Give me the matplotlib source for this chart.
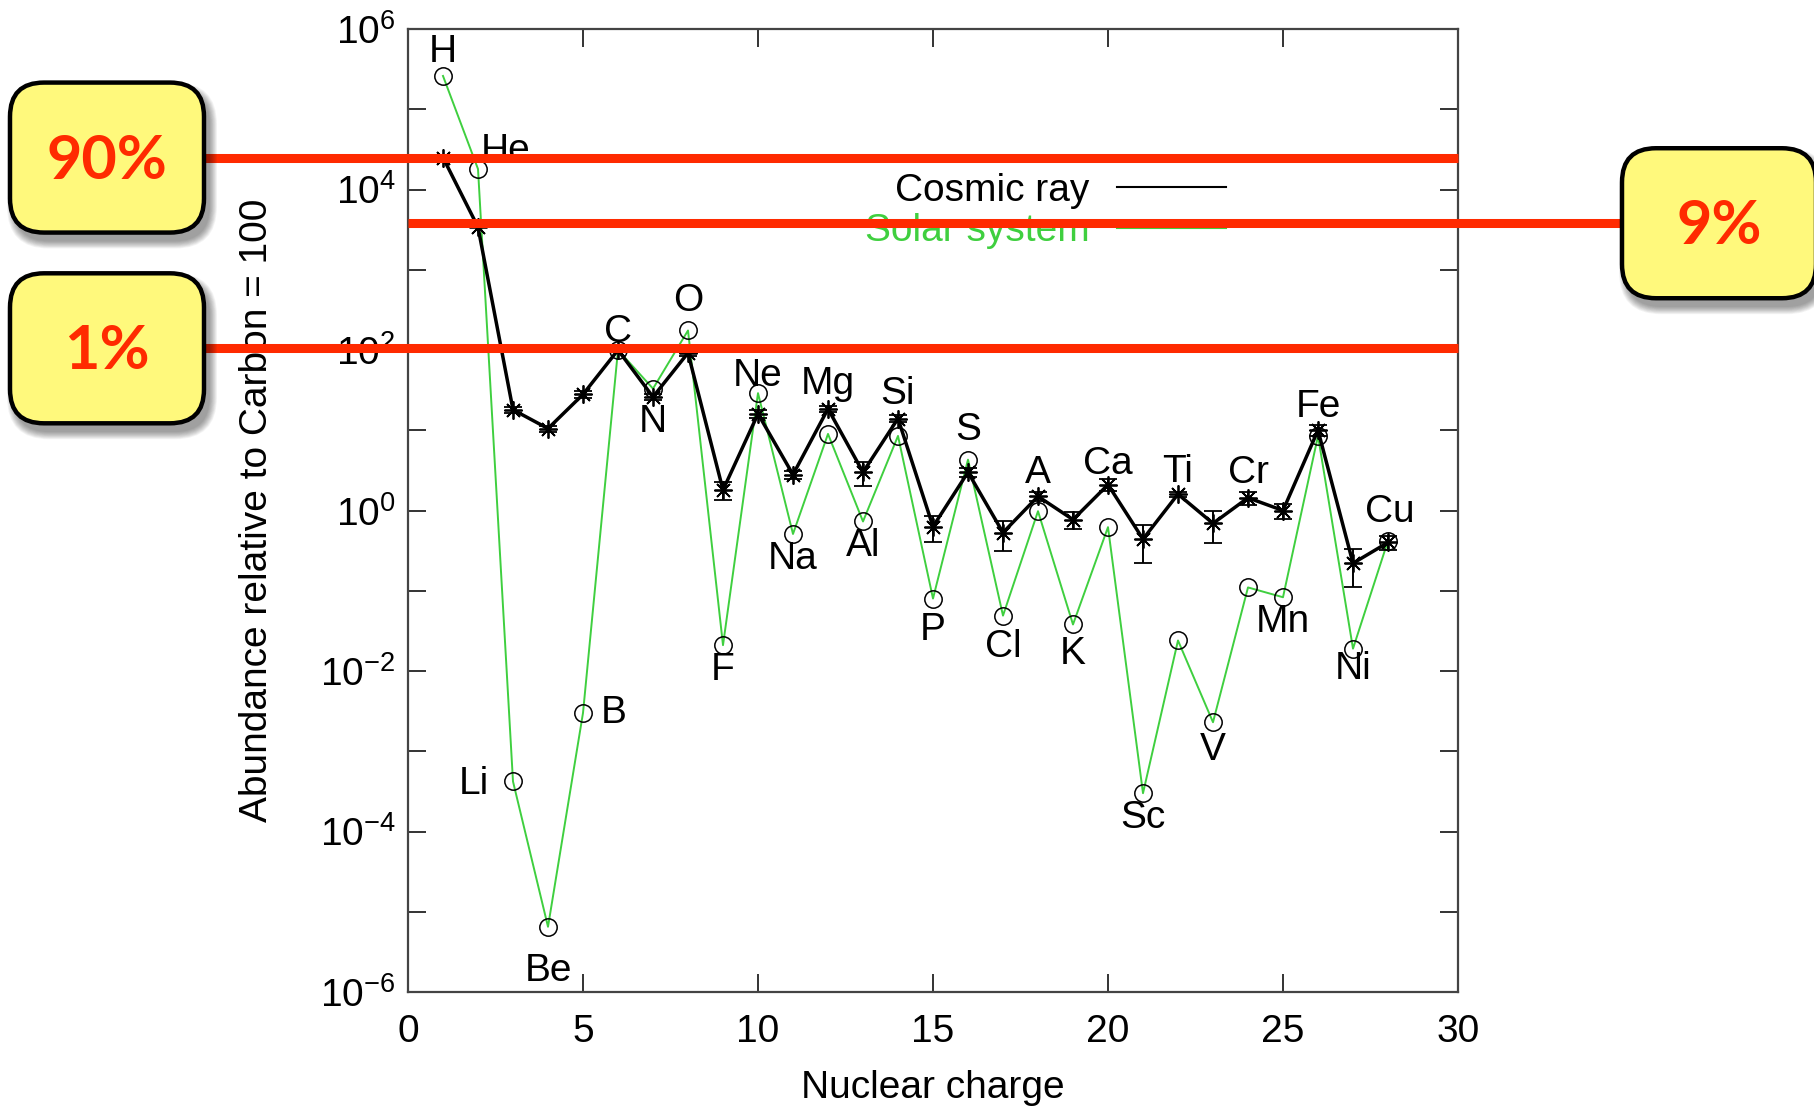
import matplotlib
matplotlib.use('Agg')
import matplotlib.pyplot as plt
import matplotlib.transforms as mtransforms
from matplotlib.lines import Line2D
from matplotlib.patches import FancyBboxPatch
from matplotlib.ticker import NullLocator

plt.rcParams['font.family'] = ['Liberation Sans', 'DejaVu Sans']
plt.rcParams['mathtext.fontset'] = 'custom'
plt.rcParams['mathtext.rm'] = 'Liberation Sans'
plt.rcParams['mathtext.it'] = 'Liberation Sans:italic'
plt.rcParams['mathtext.bf'] = 'Liberation Sans:bold'

# ---------------- data ----------------
elements = ['H', 'He', 'Li', 'Be', 'B', 'C', 'N', 'O', 'F', 'Ne', 'Na', 'Mg', 'Al', 'Si',
            'P', 'S', 'Cl', 'A', 'K', 'Ca', 'Sc', 'Ti', 'V', 'Cr', 'Mn', 'Fe', 'Ni', 'Cu']
charge = list(range(1, 29))
solar = [2.6e5, 1.8e4, 4.2e-4, 6.5e-6, 3.0e-3, 100, 33, 175, 0.021, 29, 0.51, 9.0, 0.73, 8.5,
         0.08, 4.3, 0.049, 0.98, 0.038, 0.62, 3.0e-4, 0.024, 2.3e-3, 0.11, 0.083, 8.5, 0.019, 0.42]
cosmic = [2.5e4, 3.4e3, 18, 10.5, 28, 100, 26, 92, 1.8, 16, 2.8, 18.5, 3.0, 14,
          0.63, 3.0, 0.53, 1.5, 0.77, 2.1, 0.44, 1.6, 0.69, 1.44, 1.0, 10, 0.22, 0.40]
cosmic_err = [0, 0, 1.5, 0.9, 2.5, 6, 2.5, 7, 0.45, 1.8, 0.35, 1.8, 1.0, 1.4,
              0.22, 0.35, 0.22, 0.18, 0.19, 0.35, 0.22, 0.12, 0.3, 0.28, 0.22, 1.5, 0.11, 0.08]
# where each element name sits: next to the solar ('s') or cosmic-ray ('c') point
label_src = ['s', 's', 's', 's', 's', 'c', 'c', 's', 's', 's', 's', 'c', 's', 'c',
             's', 's', 's', 'c', 's', 'c', 's', 'c', 's', 'c', 's', 'c', 's', 'c']
label_dx = [0, 20, -28, 0, 22, 0, 0, 0, 0, 0, 0, 0, 0, 0,
            0, 0, 0, 0, 0, 0, 0, 0, 0, 0, 0, 0, 0, 1]
label_dy = [17, 13, -2, -32, 0, 13, -18, 21, -18, 12.5, -18, 18, -18, 18,
            -23, 21, -22.5, 17, -21, 15, -17.5, 16, -20, 18, -18, 17, -15, 22]

x_ticks = [0, 5, 10, 15, 20, 25, 30]
y_exponents = list(range(-6, 7))

legend_labels = ['Cosmic ray', 'Solar system']

# annotation bands (share of cosmic rays)
band_texts = ['90%', '9%', '1%']
band_levels = [2.5e4, 3.8e3, 105]

# ---------------- style ----------------
W, H = 1814, 1109
green = '#3fcf3f'
red = '#ff2a00'
yellow = '#fff97c'
FS = 28

fig = plt.figure(figsize=(W / 100, H / 100), dpi=100)
ax_l, ax_r, ax_t, ax_b = 408, 1458, 29, 992
ax = fig.add_axes([ax_l / W, (H - ax_b) / H, (ax_r - ax_l) / W, (ax_b - ax_t) / H])
ax.set_yscale('log')
ax.set_xlim(0, 30)
ax.set_ylim(1e-6, 1e6)

ax.set_xticks(x_ticks)
ax.set_xticklabels([str(t) for t in x_ticks])
ax.set_yticks([10.0 ** k for k in y_exponents])
ax.set_yticklabels([r'$\mathregular{10^{%d}}$' % k if k % 2 == 0 else '' for k in y_exponents])
ax.yaxis.set_minor_locator(NullLocator())
ax.tick_params(which='both', direction='in', top=True, right=True, length=13, width=1.4,
               color='#333333', labelcolor='black', labelsize=FS)
ax.tick_params(axis='x', pad=16)
ax.tick_params(axis='y', pad=9)
for s in ax.spines.values():
    s.set_color('#444444')
    s.set_linewidth(1.6)

ax.set_xlabel('Nuclear charge', fontsize=FS, labelpad=14)
ax.set_ylabel('Abundance relative to Carbon = 100', fontsize=FS, labelpad=32)

ax.plot(charge, solar, color=green, lw=1.4, marker='o', mfc='none', mec='black',
        ms=12.5, mew=1.1, zorder=3)
ax.errorbar(charge, cosmic, yerr=cosmic_err, color='black', lw=2.5, marker=(8, 2, 0),
            ms=13, mew=1.3, ecolor='black', elinewidth=1.4, capsize=6.5, capthick=1.4,
            zorder=4)

for z, name, src, dx, dy in zip(charge, elements, label_src, label_dx, label_dy):
    yv = solar[z - 1] if src == 's' else cosmic[z - 1]
    ax.annotate(name, (z, yv), xytext=(dx, dy), textcoords='offset points',
                ha='center', va='center', fontsize=FS, zorder=6)

handles = [Line2D([], [], color='black', lw=1.5), Line2D([], [], color=green, lw=1.5)]
leg = ax.legend(handles, legend_labels, loc='center', bbox_to_anchor=(0.607, 0.811),
                frameon=False, markerfirst=False, fontsize=FS, handlelength=2.8,
                labelspacing=0.12, handletextpad=0.7)
for t, c in zip(leg.get_texts(), ['black', green]):
    t.set_color(c)

# ---------------- annotation bands ----------------
band_side = ['left', 'right', 'left']
box_w, box_h = 194, 150
left_box_x, right_box_x = 10, 1622
trans = mtransforms.blended_transform_factory(fig.transFigure, ax.transData)
ident = mtransforms.IdentityTransform()
for txt, lvl, side in zip(band_texts, band_levels, band_side):
    if side == 'left':
        xs = [(left_box_x + box_w / 2) / W, ax_r / W]
        bx = left_box_x
    else:
        xs = [ax_l / W, (right_box_x + box_w / 2) / W]
        bx = right_box_x
    ax.add_line(Line2D(xs, [lvl, lvl], transform=trans, color=red, lw=6.5,
                       clip_on=False, zorder=10, solid_capstyle='butt'))
    yc = ax.transData.transform((0, lvl))[1]
    by = yc - box_h / 2
    for i in range(10, 0, -1):
        sh = FancyBboxPatch((bx + 5 - i * 0.8, by - 8 - i * 0.8), box_w + i * 1.6, box_h + i * 1.6,
                            boxstyle='round,pad=0,rounding_size=%g' % (34 + i * 0.8),
                            transform=ident, facecolor='black', edgecolor='none',
                            alpha=0.045, zorder=20)
        fig.patches.append(sh)
    box = FancyBboxPatch((bx, by), box_w, box_h, boxstyle='round,pad=0,rounding_size=34',
                         transform=ident, facecolor=yellow, edgecolor='black', lw=3.2,
                         zorder=21)
    fig.patches.append(box)
    fig.text((bx + box_w / 2) / W, (yc - 3) / H, txt, ha='center', va='center',
             color=red, fontsize=44, fontweight='bold', family=['Lato', 'DejaVu Sans'],
             zorder=22)

fig.savefig('out.png', dpi=100)
